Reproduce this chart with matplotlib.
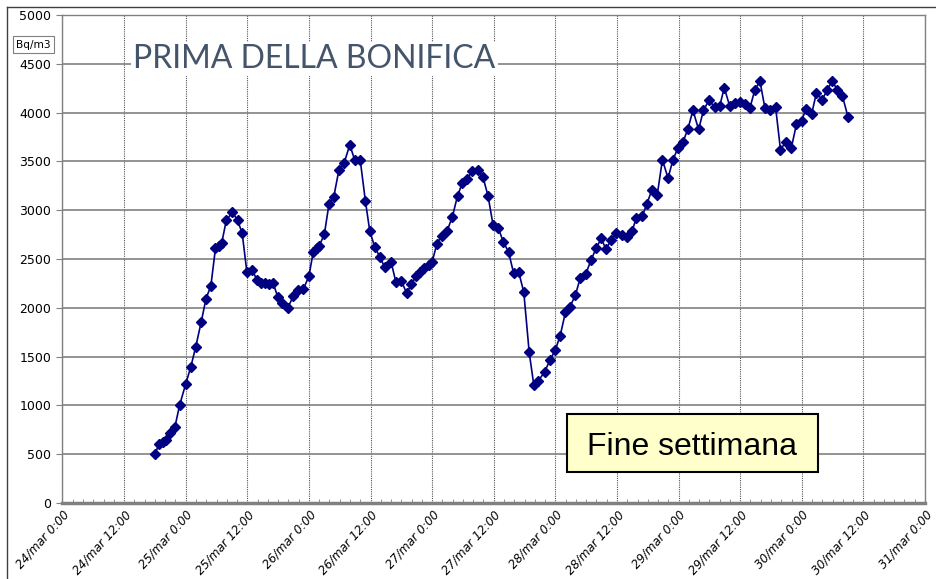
import matplotlib
matplotlib.use('Agg')
import matplotlib.pyplot as plt
from matplotlib.lines import Line2D
from matplotlib.patches import Rectangle
from matplotlib.ticker import MultipleLocator

# hours since 24/mar 0:00 and radon concentration (Bq/m3)
hours = [18.0, 18.8, 19.5, 20.1, 20.95, 21.9, 22.8, 24.0, 25.0, 25.95,
         27.0, 27.96, 28.9, 29.8, 30.5, 31.0, 31.9, 33.1, 34.1, 35.0,
         35.9, 37.0, 37.9, 38.7, 39.5, 40.2, 41.0, 41.9, 42.8, 43.9,
         44.95, 45.9, 46.9, 48.0, 48.85, 49.5, 50.0, 51.0, 51.9, 52.85,
         53.85, 54.85, 55.95, 56.95, 58.0, 59.0, 59.85, 60.8, 61.85, 62.75,
         64.0, 64.95, 66.0, 67.05, 67.95, 68.9, 69.65, 70.45, 71.3, 72.0,
         72.9, 73.85, 74.9, 75.95, 76.95, 77.9, 78.85, 79.7, 80.85, 81.9,
         82.9, 83.85, 84.85, 85.85, 86.9, 87.85, 88.85, 89.85, 90.9, 91.8,
         92.6, 93.9, 95.0, 96.0, 96.95, 97.95, 98.8, 99.9, 100.85, 101.9,
         102.95, 103.95, 104.95, 105.85, 106.9, 107.9, 108.9, 109.95, 110.95, 111.8,
         112.95, 113.85, 114.8, 115.85, 116.85, 117.95, 118.9, 119.9, 120.85, 121.8,
         122.8, 123.9, 124.85, 125.95, 127.0, 128.0, 128.9, 129.95, 130.95, 131.95,
         132.9, 133.9, 134.85, 135.85, 136.8, 137.85, 138.9, 139.85, 140.9, 141.95,
         142.95, 143.95, 144.85, 145.9, 146.85, 147.95, 148.95, 149.9, 150.95, 151.9,
         153.0]
values = [500, 605, 625, 645, 715, 780, 1000, 1220, 1395, 1600,
          1850, 2095, 2225, 2610, 2635, 2660, 2895, 2980, 2895, 2765,
          2370, 2385, 2280, 2258, 2250, 2240, 2258, 2115, 2050, 2000,
          2120, 2180, 2188, 2325, 2575, 2610, 2635, 2752, 3060, 3140,
          3415, 3480, 3670, 3510, 3510, 3093, 2786, 2625, 2516, 2418,
          2470, 2260, 2277, 2147, 2243, 2325, 2370, 2410, 2440, 2470,
          2650, 2738, 2786, 2934, 3148, 3281, 3315, 3398, 3413, 3340,
          3143, 2852, 2822, 2677, 2570, 2358, 2368, 2160, 1545, 1210,
          1245, 1343, 1470, 1569, 1716, 1952, 2005, 2130, 2305, 2343,
          2488, 2612, 2710, 2600, 2698, 2762, 2741, 2722, 2788, 2924,
          2941, 3068, 3208, 3160, 3516, 3328, 3516, 3640, 3698, 3830,
          4023, 3827, 4023, 4130, 4053, 4065, 4255, 4068, 4099, 4105,
          4090, 4048, 4232, 4323, 4051, 4031, 4056, 3619, 3702, 3636,
          3878, 3918, 4038, 3983, 4201, 4133, 4228, 4327, 4228, 4172,
          3956]

tick_hours = list(range(0, 169, 12))
tick_labels = ['24/mar 0:00', '24/mar 12:00', '25/mar 0:00', '25/mar 12:00',
               '26/mar 0:00', '26/mar 12:00', '27/mar 0:00', '27/mar 12:00',
               '28/mar 0:00', '28/mar 12:00', '29/mar 0:00', '29/mar 12:00',
               '30/mar 0:00', '30/mar 12:00', '31/mar 0:00']
y_ticks = list(range(0, 5001, 500))

fig = plt.figure(figsize=(9.37, 5.79), dpi=100)
ax = fig.add_axes([0.0667, 0.1313, 0.9205, 0.8428])

ax.plot(hours, values, color='#000080', lw=1.2, marker='D', ms=4.6, zorder=3)

ax.set_xlim(0, 168)
ax.set_ylim(0, 5000)
ax.set_xticks(tick_hours)
ax.set_xticklabels(tick_labels, rotation=48, ha='right', va='top',
                   rotation_mode='anchor', fontstyle='italic', fontsize=8.6)
ax.xaxis.set_minor_locator(MultipleLocator(2))
ax.set_yticks(y_ticks)
ax.tick_params(axis='y', labelsize=9, length=4, color='#808080', pad=4)
ax.tick_params(axis='x', which='major', length=0, pad=4)
ax.tick_params(axis='x', which='minor', direction='in', length=3, color='#808080')

ax.grid(axis='y', color='#808080', lw=1.2)
ax.grid(axis='x', color='#555555', lw=0.8, ls=(0, (1, 1)))
ax.set_axisbelow(True)

for side in ['top', 'right', 'left']:
    ax.spines[side].set_color('#808080')
    ax.spines[side].set_linewidth(1)
ax.spines['bottom'].set_color('#808080')
ax.spines['bottom'].set_linewidth(2.5)

# chart area frame (only top and left are visible)
fig.add_artist(Line2D([7/937, 7/937], [0, 1 - 7/579], transform=fig.transFigure,
                      color='#404040', lw=1))
fig.add_artist(Line2D([7/937, 1], [1 - 7/579, 1 - 7/579], transform=fig.transFigure,
                      color='#404040', lw=1))

# unit label
fig.text(0.0358, 0.9231, 'Bq/m3', fontsize=7.6, ha='center', va='center',
         bbox=dict(facecolor='white', edgecolor='#808080', lw=0.8, pad=2.5))

# title
fig.text(0.142, 0.8826, 'PRIMA DELLA BONIFICA', family='Lato', fontsize=23,
         color='#44546A', ha='left', va='baseline',
         bbox=dict(facecolor='white', edgecolor='none', pad=1.5))

# annotation box
fig.add_artist(Rectangle((567/937, 1 - 472/579), 251/937, 58/579,
                         transform=fig.transFigure, facecolor='#FFFFCC',
                         edgecolor='black', lw=1.5))
fig.text(692.5/937, 1 - 455/579, 'Fine settimana', family='Liberation Sans',
         fontsize=23, ha='center', va='baseline')

fig.savefig('out.png', dpi=100)
